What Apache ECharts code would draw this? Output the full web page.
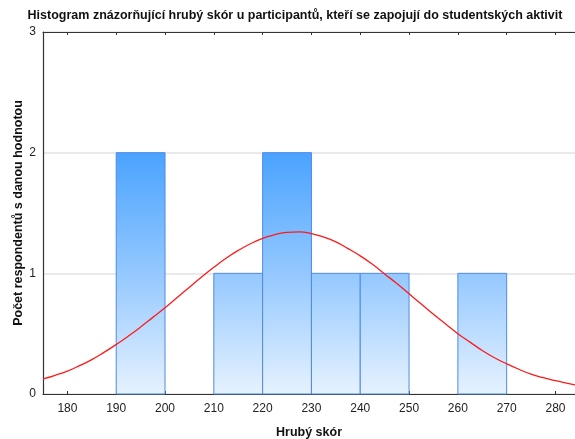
<!DOCTYPE html>
<html>
<head>
<meta charset="utf-8">
<script src="https://cdn.jsdelivr.net/npm/echarts@6/dist/echarts.min.js"></script>
<style>
html,body{margin:0;padding:0;background:#fff;}
#chart{width:575px;height:439px;}
</style>
</head>
<body>
<div id="chart"></div>
<script>
// Histogram bins: start, end, count
const binStarts = [190, 210, 220, 230, 240, 260];
const binEnds   = [200, 220, 230, 240, 250, 270];
const binCounts = [2, 1, 2, 1, 1, 1];

// Fitted normal curve (x, expected count)
const curveX = [175, 177.5, 180, 182.5, 185, 187.5, 190, 192.5, 195, 197.5, 200, 202.5, 205, 207.5, 210, 212.5, 215, 217.5, 220, 222.5, 225, 227.5, 230, 232.5, 235, 237.5, 240, 242.5, 245, 247.5, 250, 252.5, 255, 257.5, 260, 262.5, 265, 267.5, 270, 272.5, 275, 277.5, 280, 282.5, 284];
const curveY = [0.125, 0.155, 0.19, 0.235, 0.285, 0.345, 0.41, 0.48, 0.555, 0.635, 0.715, 0.80, 0.885, 0.97, 1.05, 1.125, 1.19, 1.245, 1.29, 1.32, 1.34, 1.344, 1.33, 1.30, 1.26, 1.205, 1.145, 1.075, 0.995, 0.915, 0.83, 0.745, 0.66, 0.58, 0.50, 0.43, 0.36, 0.30, 0.25, 0.205, 0.165, 0.135, 0.11, 0.088, 0.075];

const xTicks = [180, 190, 200, 210, 220, 230, 240, 250, 260, 270, 280];
const xMin = 175, xMax = 284;

const titleText = 'Histogram znázorňující hrubý skór u participantů, kteří se zapojují do studentských aktivit';
const xName = 'Hrubý skór';
const yName = 'Počet respondentů s danou hodnotou';

const binData = binStarts.map((s, i) => [s, binEnds[i], binCounts[i]]);
const curveData = curveX.map((x, i) => [x, curveY[i]]);

const chart = echarts.init(document.getElementById('chart'), null, {renderer: 'canvas'});
const FONT = '"Liberation Sans", Arial, sans-serif';

chart.setOption({
  backgroundColor: '#fff',
  animation: false,
  title: {
    text: titleText,
    left: 290, top: 4, textAlign: 'center',
    textStyle: {fontFamily: FONT, fontSize: 12.5, fontWeight: 'bold', color: '#111'}
  },
  grid: {left: 43, right: 0, top: 32, bottom: 45, outerBoundsMode: 'none', containLabel: false},
  xAxis: [{
    type: 'value', min: xMin, max: xMax, position: 'bottom',
    name: xName, nameLocation: 'middle', nameGap: 32, nameMoveOverlap: false,
    nameTextStyle: {fontFamily: FONT, fontSize: 12.5, fontWeight: 'bold', color: '#111'},
    axisLine: {show: true, onZero: false, lineStyle: {color: '#333', width: 1.2}},
    axisTick: {show: true, inside: true, length: 3, customValues: xTicks, lineStyle: {color: '#333'}},
    axisLabel: {customValues: xTicks, margin: 9, fontFamily: FONT, fontSize: 12, color: '#222'},
    splitLine: {show: false}
  }, {
    type: 'value', min: xMin, max: xMax, position: 'top',
    axisLine: {show: true, onZero: false, lineStyle: {color: '#333', width: 1.2}},
    axisTick: {show: true, inside: true, length: 3, customValues: xTicks, lineStyle: {color: '#333'}},
    axisLabel: {show: false},
    splitLine: {show: false}
  }],
  yAxis: {
    type: 'value', min: 0, max: 3, interval: 1,
    name: yName, nameLocation: 'middle', nameGap: 18, nameMoveOverlap: false,
    nameTextStyle: {fontFamily: FONT, fontSize: 12.5, fontWeight: 'bold', color: '#111'},
    axisLine: {show: true, lineStyle: {color: '#333', width: 1.2}},
    axisTick: {show: false},
    axisLabel: {margin: 7, fontFamily: FONT, fontSize: 12, color: '#222'},
    splitLine: {show: true, lineStyle: {color: '#e2e2e2', width: 1.5}}
  },
  series: [{
    type: 'custom',
    xAxisIndex: 0,
    data: binData,
    encode: {x: [0, 1], y: 2},
    z: 2,
    renderItem: function (params, api) {
      const p0 = api.coord([api.value(0), 0]);
      const p1 = api.coord([api.value(1), api.value(2)]);
      const top2 = api.coord([api.value(0), 2])[1];
      return {
        type: 'rect',
        shape: {x: p0[0], y: p1[1], width: p1[0] - p0[0], height: p0[1] - p1[1]},
        style: {
          fill: {
            type: 'linear', x: 0, y: top2, x2: 0, y2: p0[1], global: true,
            colorStops: [
              {offset: 0, color: '#4aa3ff'},
              {offset: 0.5, color: '#94c8ff'},
              {offset: 1, color: '#e6f2ff'}
            ]
          },
          stroke: '#4f8ae6',
          lineWidth: 1
        }
      };
    }
  }, {
    type: 'line',
    xAxisIndex: 0,
    data: curveData,
    smooth: 0.5,
    showSymbol: false,
    z: 3,
    lineStyle: {color: '#ff1a1a', width: 1.3}
  }]
});
</script>
</body>
</html>
